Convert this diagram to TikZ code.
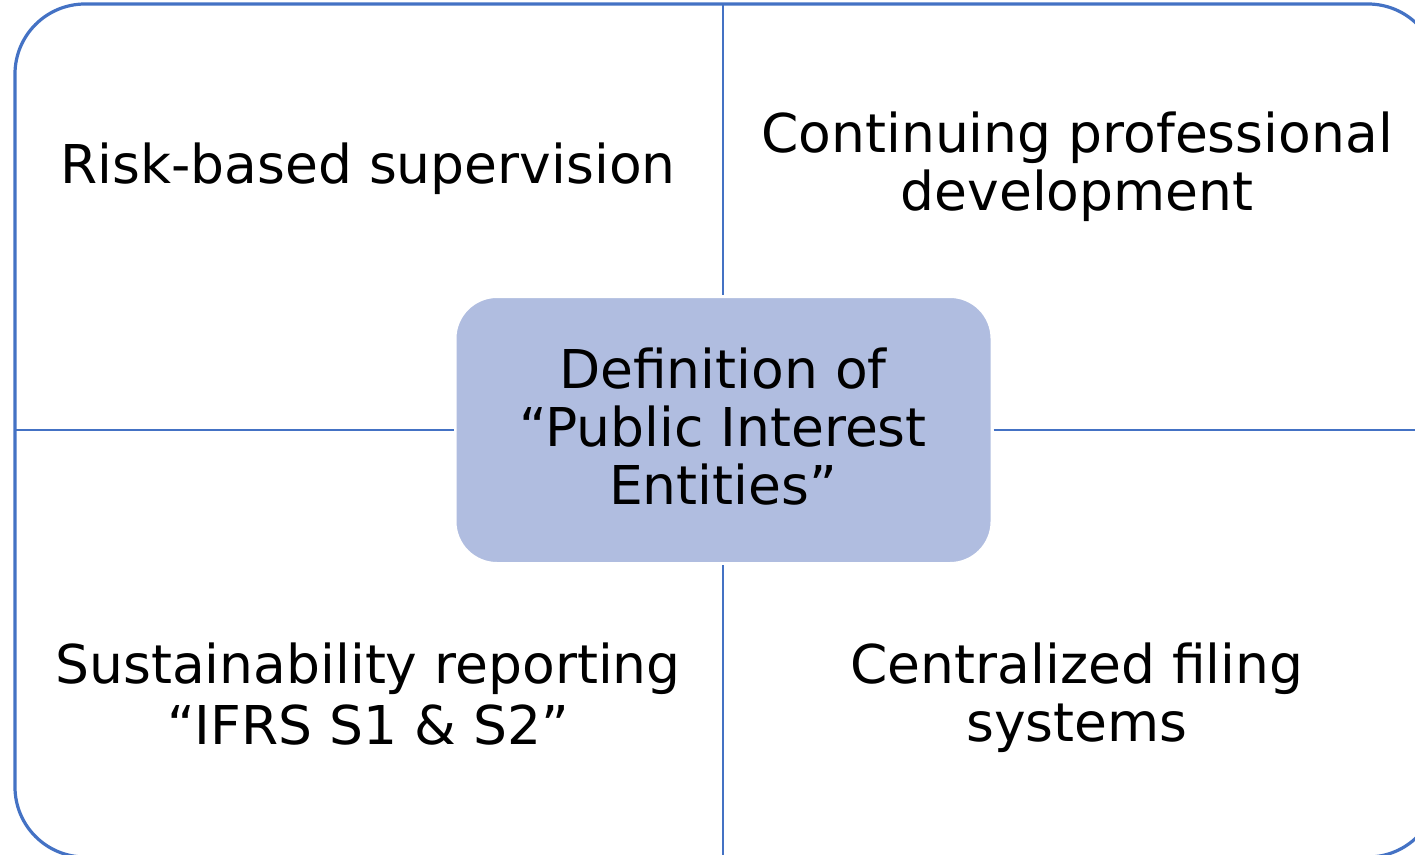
\documentclass[tikz,border=0pt]{standalone}
\usepackage{fontspec}
\setmainfont{DejaVu Sans}
\definecolor{lineblue}{HTML}{4472C4}
\definecolor{boxfill}{HTML}{B0BDE0}
\begin{document}
\begin{tikzpicture}[x=1pt,y=-1pt,
  lbl/.style={align=center,font=\fontsize{53.5}{58}\selectfont,text=black,inner sep=0pt,anchor=base},
  divider/.style={draw=lineblue,line width=2.6pt}]
\useasboundingbox (0,0) rectangle (1415,854);
\draw[lineblue,line width=3.2pt,rounded corners=70pt] (15,4) rectangle (1438,857);
\node[draw=white,line width=3pt,fill=boxfill,rounded corners=42pt,minimum width=537pt,minimum height=267pt,inner sep=0pt] (c) at (723.5,430) {};
\coordinate (top) at (723,4);
\coordinate (bot) at (723,856);
\coordinate (lft) at (15,430);
\coordinate (rgt) at (1438,430);
\draw[divider] (top) -- (c.north -| top);
\draw[divider] (c.south -| bot) -- (bot);
\draw[divider] (lft) -- (c.west |- lft);
\draw[divider] (c.east |- rgt) -- (rgt);
\node[lbl] (ct) at (723,504) {Definition of\\“Public Interest\\Entities”};
\node[lbl] (tl) at (368,183) {Risk-based supervision};
\node[lbl] (tr) at (1077,210) {Continuing professional\\development};
\node[lbl,font=\fontsize{53.5}{61}\selectfont] (bl) at (368,744) {Sustainability reporting\\“IFRS S1 \& S2”};
\node[lbl] (br) at (1077,741) {Centralized filing\\systems};
\end{tikzpicture}
\end{document}
